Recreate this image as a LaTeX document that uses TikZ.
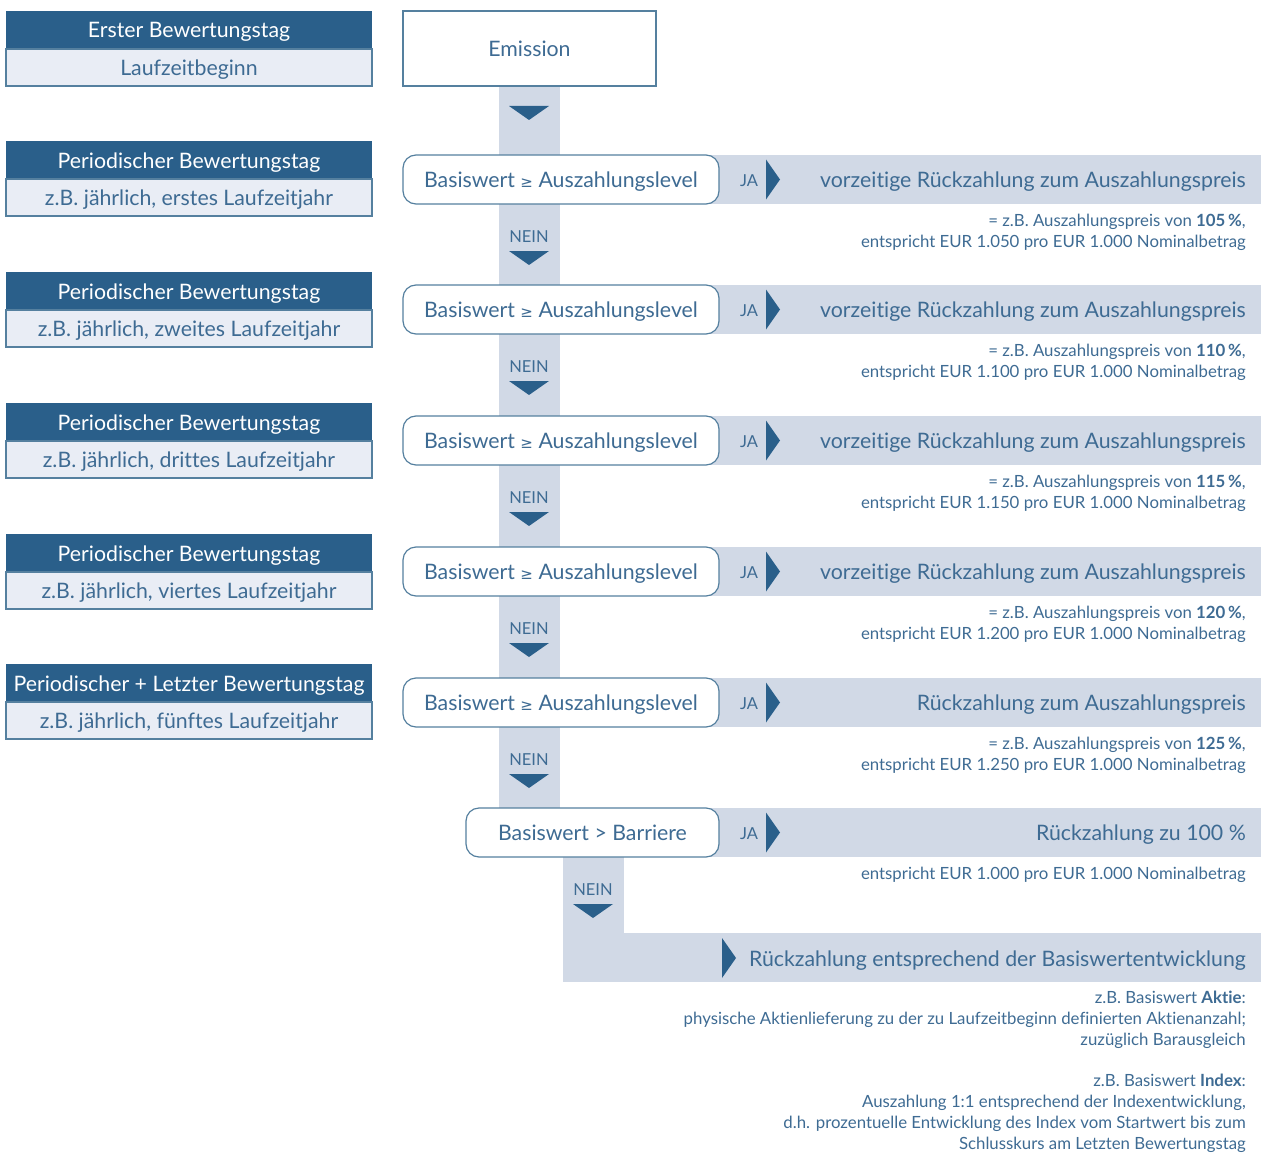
\documentclass[tikz,border=0pt]{standalone}
\usepackage{fontspec}
\usetikzlibrary{calc}
\setmainfont{Lato}[Ligatures=NoCommon]
\newfontfamily\symf{DejaVu Sans}
\definecolor{dk}{HTML}{2A5F8A}
\definecolor{tx}{HTML}{3E6B93}
\definecolor{band}{HTML}{D1D9E6}
\definecolor{lt}{HTML}{E9EDF5}
\definecolor{bord}{HTML}{55809F}
\newcommand{\bigf}{\fontsize{21.3}{25}\selectfont}
\newcommand{\smallf}{\fontsize{16.8}{21}\selectfont}
\tikzset{
  bigtext/.style={font=\bigf,text height=19.5,text depth=3.5},
  darkbox/.style={bigtext,fill=dk,text=white,minimum width=366,minimum height=38,inner sep=0},
  lightbox/.style={bigtext,fill=lt,draw=bord,line width=1.2,text=tx,minimum width=366,minimum height=37,inner sep=0},
  decbox/.style={bigtext,fill=white,draw=bord,line width=1.2,rounded corners=13,text=tx,minimum height=49,inner sep=0},
  restxt/.style={bigtext,anchor=east,text=tx,inner sep=0},
  smalltxt/.style={anchor=north east,text=tx,inner sep=0,align=right,font=\smallf},
  lbl/.style={text=tx,inner sep=0,font=\fontsize{16.5}{19}\selectfont},
  tri/.style={fill=dk,draw=none}
}
\begin{document}
\begin{tikzpicture}[x=1pt,y=-1pt]
\useasboundingbox (0,0) rectangle (1261,1153);
% left column
\foreach \i/\t/\a/\b in {0/11/Erster Bewertungstag/Laufzeitbeginn,
  1/141/Periodischer Bewertungstag/{z.B. jährlich, erstes Laufzeitjahr},
  2/272/Periodischer Bewertungstag/{z.B. jährlich, zweites Laufzeitjahr},
  3/403/Periodischer Bewertungstag/{z.B. jährlich, drittes Laufzeitjahr},
  4/534/Periodischer Bewertungstag/{z.B. jährlich, viertes Laufzeitjahr},
  5/664/Periodischer + Letzter Bewertungstag/{z.B. jährlich, fünftes Laufzeitjahr}}{
  \node[darkbox] (h\i) at (189,\t+19) {\a};
  \node[lightbox] (l\i) at (189,\t+56.5) {\b};
}
% vertical bands
\fill[band] (499,86) rectangle (560,820);
\fill[band] (563,850) rectangle (624,982);
\fill[band] (624,933) rectangle (1261,982);
% emission
\node[bigtext,fill=white,draw=bord,line width=1.2,minimum width=253,minimum height=75,inner sep=0,text=tx] (em) at (529.5,48.5) {Emission};
\coordinate (t0) at (529,113);
\fill[tri] ($(t0)+(-20,-7)$) -- ($(t0)+(20,-7)$) -- ($(t0)+(0,7)$) -- cycle;
% decision rows
\foreach \i/\y/\main/\pct/\eur in {1/179.5/vorzeitige Rückzahlung zum Auszahlungspreis/105/1.050,
  2/309.5/vorzeitige Rückzahlung zum Auszahlungspreis/110/1.100,
  3/440.5/vorzeitige Rückzahlung zum Auszahlungspreis/115/1.150,
  4/571.5/vorzeitige Rückzahlung zum Auszahlungspreis/120/1.200,
  5/702.5/Rückzahlung zum Auszahlungspreis/125/1.250}{
  \fill[band] (700,\y-24.5) rectangle (1261,\y+24.5);
  \node[decbox,minimum width=316] (d\i) at (561,\y) {Basiswert {\symf\fontsize{15}{18}\selectfont ≥} Auszahlungslevel};
  \node[lbl] (ja\i) at (749,\y+1) {JA};
  \fill[tri] (766,\y-20) -- (780,\y) -- (766,\y+20) -- cycle;
  \node[restxt] (r\i) at (1246,\y) {\main};
  \node[smalltxt] (s\i) at (1246,\y+34) {= z.B. Auszahlungspreis von \textbf{\pct\,\%},\\entspricht EUR \eur{} pro EUR 1.000 Nominalbetrag};
  \node[lbl] (n\i) at (529,\y+57.5) {NEIN};
  \fill[tri] (509,\y+71.5) -- (549,\y+71.5) -- (529,\y+85.5) -- cycle;
}
% barriere row
\fill[band] (700,808) rectangle (1261,857);
\node[decbox,minimum width=253] (d6) at (592.5,832.5) {Basiswert > Barriere};
\node[lbl] (ja6) at (749,833.5) {JA};
\fill[tri] (766,812.5) -- (780,832.5) -- (766,852.5) -- cycle;
\node[restxt] (r6) at (1246,832.5) {Rückzahlung zu 100 \%};
\node[smalltxt] (s6) at (1246,867) {entspricht EUR 1.000 pro EUR 1.000 Nominalbetrag};
\node[lbl] (n6) at (593,889.5) {NEIN};
\fill[tri] (573,904) -- (613,904) -- (593,918) -- cycle;
% final
\fill[tri] (722,938) -- (736,958) -- (722,978) -- cycle;
\node[restxt] (r7) at (1246,958.5) {Rückzahlung entsprechend der Basiswertentwicklung};
\node[smalltxt] (s7) at (1246,991) {z.B. Basiswert \textbf{Aktie}:\\physische Aktienlieferung zu der zu Laufzeitbeginn definierten Aktienanzahl;\\zuzüglich Barausgleich\\[20pt]z.B. Basiswert \textbf{Index}:\\Auszahlung 1:1 entsprechend der Indexentwicklung,\\d.h. prozentuelle Entwicklung des Index vom Startwert bis zum\\Schlusskurs am Letzten Bewertungstag};
\end{tikzpicture}
\end{document}
